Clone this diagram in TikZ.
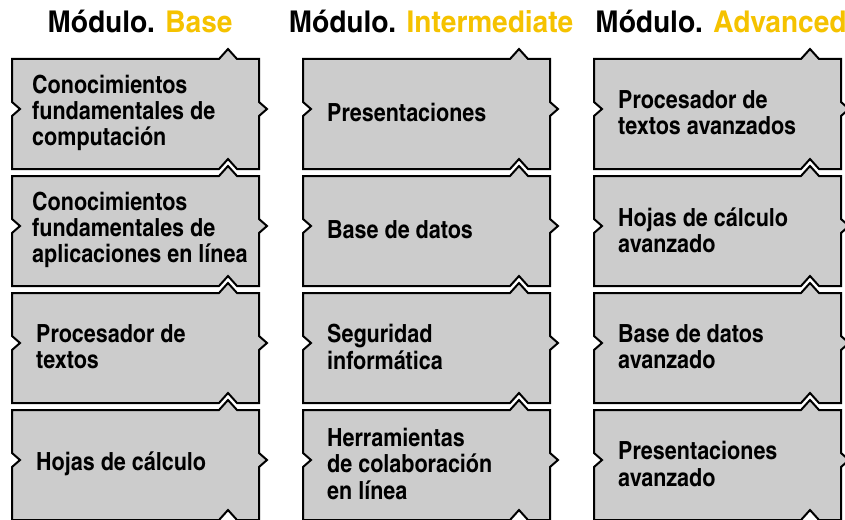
\documentclass[tikz,border=0pt]{standalone}
\usepackage{fontspec}
\setmainfont{texgyreheroscn}[Extension=.otf, UprightFont=*-regular, BoldFont=*-bold, ItalicFont=*-italic, BoldItalicFont=*-bolditalic, FakeStretch=1.05]
\newfontfamily\titulofont{texgyreheroscn}[Extension=.otf, UprightFont=*-bold, FakeStretch=1.14]
\usetikzlibrary{calc}
\definecolor{relleno}{RGB}{204,204,204}
\definecolor{amarillo}{RGB}{245,194,0}
\tikzset{
  pieza/.style = {draw=black, line width=2pt, fill=relleno, line join=miter},
  texto/.style = {anchor=west, align=left, inner sep=0pt, font=\bfseries\fontsize{25}{26.2}\selectfont},
  titulo/.style = {anchor=base, inner sep=0pt, font=\titulofont\fontsize{30}{32}\selectfont}
}
% puzzle piece: top left corner (x,y), node name, text, text indent
\def\pieza(#1,#2)#3#4#5;%
{
  \draw[pieza] (#1,#2) -- +(207,0) -- +(216,-10) -- +(225,0) -- +(247,0)
    -- +(247,43) -- +(255,50) -- +(247,57) -- +(247,110) -- +(225,110)
    -- +(216,100) -- +(207,110) -- +(0,110) -- +(0,57) -- +(8,50)
    -- +(0,43) -- cycle;
  \node[texto] (#3) at ($(#1,#2)+(#5,54)$) {#4};
}

\begin{document}
\begin{tikzpicture}[x=1pt,y=-1pt]
  \useasboundingbox (0,0) rectangle (845,519);
  \clip (0,0) rectangle (845,519);
  % headers
  \node[titulo] (base) at (140,33) {Módulo. \textcolor{amarillo}{Base}};
  \node[titulo] (inter) at (431,33) {Módulo. \textcolor{amarillo}{Intermediate}};
  \node[titulo] (avanz) at (721,33) {Módulo. \textcolor{amarillo}{Advanced}};
  % module base
  \pieza(12,59){b1}{Conocimientos\\fundamentales de\\computación}{20};
  \pieza(12,176){b2}{Conocimientos\\fundamentales de\\aplicaciones en línea}{20};
  \pieza(12,293){b3}{Procesador de\\textos}{24};
  \pieza(12,410){b4}{Hojas de cálculo}{24};
  % module intermediate
  \pieza(303,59){i1}{Presentaciones}{24};
  \pieza(303,176){i2}{Base de datos}{24};
  \pieza(303,293){i3}{Seguridad\\informática}{24};
  \pieza(303,410){i4}{Herramientas\\de colaboración\\en línea}{24};
  % module advanced
  \pieza(594,59){a1}{Procesador de\\textos avanzados}{24};
  \pieza(594,176){a2}{Hojas de cálculo\\avanzado}{24};
  \pieza(594,293){a3}{Base de datos\\avanzado}{24};
  \pieza(594,410){a4}{Presentaciones\\avanzado}{24};
\end{tikzpicture}
\end{document}
